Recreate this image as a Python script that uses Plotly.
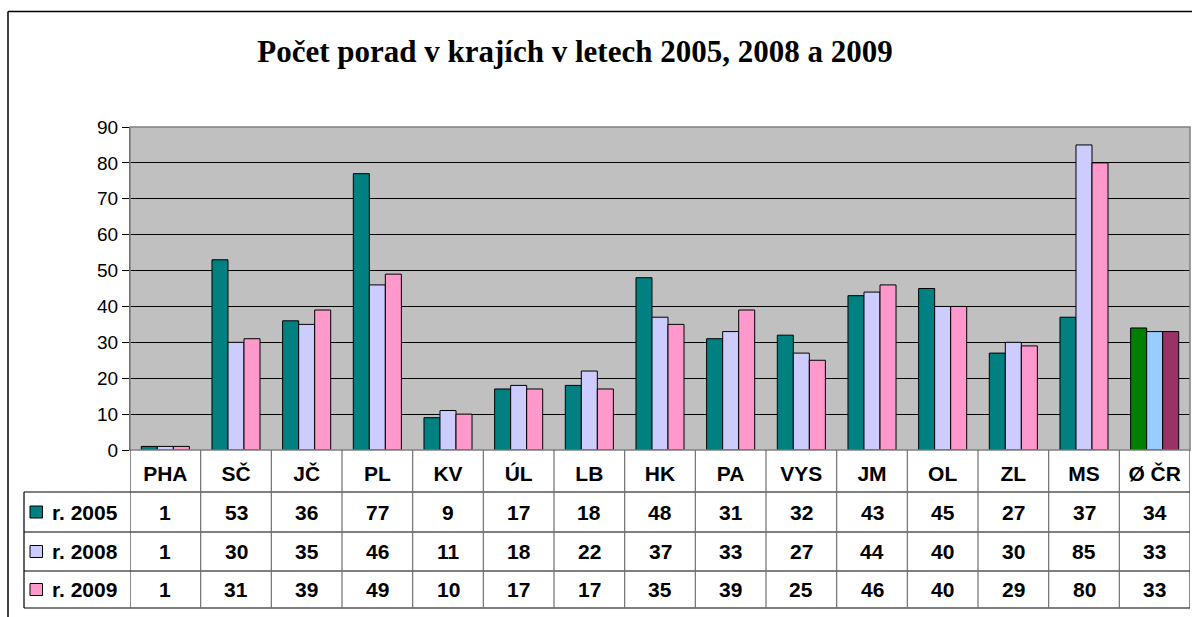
import plotly.graph_objects as go

categories = ["PHA", "SČ", "JČ", "PL", "KV", "ÚL", "LB", "HK", "PA", "VYS", "JM", "OL", "ZL", "MS", "Ø ČR"]
series_names = ["r. 2005", "r. 2008", "r. 2009"]
v2005 = [1, 53, 36, 77, 9, 17, 18, 48, 31, 32, 43, 45, 27, 37, 34]
v2008 = [1, 30, 35, 46, 11, 18, 22, 37, 33, 27, 44, 40, 30, 85, 33]
v2009 = [1, 31, 39, 49, 10, 17, 17, 35, 39, 25, 46, 40, 29, 80, 33]
base_colors = ["#008080", "#CCCCFF", "#FF99CC"]
avg_colors = ["#008000", "#99CCFF", "#993366"]
y_ticks = [0, 10, 20, 30, 40, 50, 60, 70, 80, 90]
title_text = "Počet porad v krajích v letech 2005, 2008 a 2009"

W, H = 1192, 617
L, R, T, B = 130, 1190, 127, 450


def px(x):
    return (x - L) / (R - L)


def py(y):
    return (B - y) / (B - T)


SANS = "Liberation Sans, Arial, sans-serif"
SERIF = "Liberation Serif, Times New Roman, serif"

fig = go.Figure()
series = [v2005, v2008, v2009]
n = len(categories)
for name, vals, bc, ac in zip(series_names, series, base_colors, avg_colors):
    colors = [bc] * (n - 1) + [ac]
    fig.add_trace(go.Bar(
        x=categories, y=vals, name=name,
        marker=dict(color=colors, line=dict(color="black", width=1)),
        hoverinfo="x+y+name",
    ))

shapes = []
# outer chart border (extends beyond the visible area)
shapes.append(dict(type="line", xref="paper", yref="paper", x0=px(8), x1=px(1210), y0=py(11.5), y1=py(11.5),
                   line=dict(color="black", width=1.5)))
shapes.append(dict(type="line", xref="paper", yref="paper", x0=px(8), x1=px(8), y0=py(11.5), y1=py(640),
                   line=dict(color="black", width=1.5)))
# plot area border
shapes.append(dict(type="rect", xref="paper", yref="paper", x0=0, x1=1, y0=0, y1=1,
                   line=dict(color="#808080", width=1.5), layer="above"))

# data table
row_lines = [492, 532, 571, 608]
for yl in row_lines:
    shapes.append(dict(type="line", xref="paper", yref="paper", x0=px(24), x1=1, y0=py(yl), y1=py(yl),
                       line=dict(color="black", width=1.2)))
for k in range(n + 1):
    shapes.append(dict(type="line", xref="x", yref="paper", x0=k - 0.5, x1=k - 0.5, y0=py(450), y1=py(608),
                       line=dict(color="#707070" if 0 < k < n else "#404040", width=1.2)))
shapes.append(dict(type="line", xref="paper", yref="paper", x0=px(24), x1=px(24), y0=py(492), y1=py(608),
                   line=dict(color="black", width=1.2)))

row_centers = [512, 551.5, 589.5]
annotations = []
for name, vals, bc, yc in zip(series_names, series, base_colors, row_centers):
    shapes.append(dict(type="rect", xref="paper", yref="paper", x0=px(30), x1=px(42.5), y0=py(yc - 6), y1=py(yc + 6),
                       fillcolor=bc, line=dict(color="black", width=1)))
    annotations.append(dict(text="<b>" + name + "</b>", xref="paper", yref="paper", x=px(50), y=py(yc),
                            xanchor="left", yanchor="middle", showarrow=False,
                            font=dict(family=SANS, size=21, color="black")))
    for cat, v in zip(categories, vals):
        annotations.append(dict(text="<b>%d</b>" % v, xref="x", yref="paper", x=cat, y=py(yc),
                                xanchor="center", yanchor="middle", showarrow=False,
                                font=dict(family=SANS, size=21, color="black")))

fig.update_layout(
    width=W, height=H, autosize=False,
    margin=dict(l=L, r=W - R, t=T, b=H - B, pad=0),
    paper_bgcolor="white", plot_bgcolor="#C0C0C0",
    showlegend=False,
    barmode="group", bargap=0.32, bargroupgap=0,
    title=dict(text="<b>" + title_text + "</b>", xref="container", yref="container",
               x=575 / W, xanchor="center", y=1 - 51 / H, yanchor="middle",
               font=dict(family=SERIF, size=31, color="black")),
    xaxis=dict(type="category", range=[-0.5, n - 0.5], showgrid=False, showline=False, ticks="",
               tickfont=dict(family=SANS, size=21, color="black", weight="bold"),
               ticklabelstandoff=9, fixedrange=True),
    yaxis=dict(range=[0, 90], tickvals=y_ticks, showgrid=True, gridcolor="black", gridwidth=1,
               ticks="outside", ticklen=7, tickcolor="black", tickwidth=1,
               showline=True, linecolor="#404040", linewidth=1, zeroline=False,
               tickfont=dict(family=SANS, size=19, color="black"), fixedrange=True),
    shapes=shapes, annotations=annotations,
)

fig.write_html("out.html", config={"displayModeBar": False},
               post_script="document.body.style.margin='0';")
